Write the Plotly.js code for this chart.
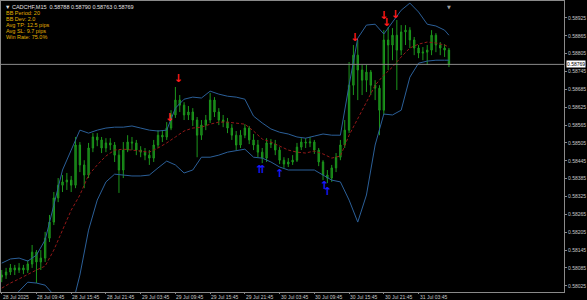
<!DOCTYPE html>
<html><head><meta charset="utf-8">
<script src="https://cdn.plot.ly/plotly-3.0.1.min.js"></script>
<style>html,body{margin:0;padding:0;background:#000;}#chart{width:587px;height:300px;}</style>
</head><body><div id="chart"></div>
<script>
const symbolName = "CADCHF,M15";
const lastBarOHLC = [0.58788, 0.58790, 0.58763, 0.58769];
const statsLines = ["BB Period: 20", "BB Dev: 2.0", "Avg TP: 12.5 pips", "Avg SL: 9.7 pips", "Win Rate: 75.0%"];
const barsPerCandle = 3;

const openP = [0.58054,0.58061,0.58071,0.58085,0.58078,0.58085,0.58078,0.58098,0.58138,0.58105,
0.58118,0.58185,0.58239,0.58320,0.58363,0.58374,0.58380,0.58363,0.58498,0.58431,
0.58397,0.58488,0.58525,0.58515,0.58488,0.58505,0.58498,0.58464,0.58414,0.58481,
0.58508,0.58505,0.58481,0.58474,0.58464,0.58454,0.58498,0.58531,0.58525,0.58555,
0.58599,0.58649,0.58632,0.58599,0.58609,0.58582,0.58531,0.58565,0.58582,0.58649,
0.58609,0.58582,0.58575,0.58555,0.58531,0.58498,0.58531,0.58555,0.58515,0.58498,
0.58474,0.58454,0.58505,0.58501,0.58481,0.58447,0.58434,0.58441,0.58447,0.58491,
0.58508,0.58505,0.58508,0.58481,0.58441,0.58397,0.58387,0.58421,0.58457,0.58498,
0.58548,0.58699,0.58800,0.58750,0.58716,0.58743,0.58699,0.58689,0.58615,0.58851,
0.58834,0.58867,0.58817,0.58878,0.58884,0.58851,0.58824,0.58807,0.58810,0.58817,
0.58867,0.58834,0.58824,0.58817];
const highP = [0.58078,0.58085,0.58098,0.58095,0.58101,0.58095,0.58111,0.58162,0.58145,0.58145,
0.58206,0.58263,0.58340,0.58387,0.58397,0.58404,0.58394,0.58525,0.58508,0.58447,
0.58505,0.58538,0.58538,0.58525,0.58521,0.58521,0.58508,0.58481,0.58508,0.58531,
0.58525,0.58515,0.58494,0.58488,0.58481,0.58515,0.58548,0.58548,0.58575,0.58615,
0.58693,0.58666,0.58642,0.58629,0.58622,0.58592,0.58582,0.58599,0.58673,0.58659,
0.58622,0.58599,0.58589,0.58568,0.58545,0.58548,0.58568,0.58562,0.58535,0.58515,
0.58488,0.58521,0.58518,0.58515,0.58491,0.58457,0.58454,0.58464,0.58505,0.58521,
0.58521,0.58525,0.58515,0.58488,0.58447,0.58414,0.58431,0.58471,0.58515,0.58582,
0.58777,0.58834,0.58851,0.58767,0.58767,0.58750,0.58716,0.58699,0.58884,0.58894,
0.58891,0.58918,0.58901,0.58901,0.58894,0.58861,0.58834,0.58827,0.58834,0.58884,
0.58874,0.58844,0.58837,0.58824];
const lowP = [0.58037,0.58048,0.58061,0.58061,0.58068,0.58064,0.58068,0.58085,0.58034,0.58078,
0.58105,0.58172,0.58229,0.58306,0.58340,0.58347,0.58340,0.58353,0.58407,0.58353,
0.58387,0.58474,0.58494,0.58471,0.58474,0.58481,0.58441,0.58337,0.58387,0.58474,
0.58481,0.58464,0.58457,0.58447,0.58431,0.58441,0.58488,0.58508,0.58515,0.58548,
0.58589,0.58609,0.58582,0.58582,0.58562,0.58457,0.58515,0.58548,0.58572,0.58592,
0.58565,0.58558,0.58538,0.58515,0.58481,0.58488,0.58521,0.58501,0.58481,0.58457,
0.58437,0.58441,0.58488,0.58464,0.58434,0.58421,0.58424,0.58431,0.58441,0.58481,
0.58488,0.58491,0.58468,0.58427,0.58380,0.58370,0.58374,0.58407,0.58447,0.58488,
0.58538,0.58666,0.58649,0.58666,0.58676,0.58666,0.58649,0.58531,0.58599,0.58750,
0.58783,0.58683,0.58800,0.58834,0.58824,0.58800,0.58790,0.58783,0.58767,0.58800,
0.58810,0.58800,0.58794,0.58760];
const closeP = [0.58061,0.58071,0.58085,0.58078,0.58085,0.58078,0.58098,0.58138,0.58105,0.58118,
0.58185,0.58239,0.58320,0.58363,0.58374,0.58380,0.58363,0.58498,0.58431,0.58397,
0.58488,0.58525,0.58515,0.58488,0.58505,0.58498,0.58464,0.58414,0.58481,0.58508,
0.58505,0.58481,0.58474,0.58464,0.58454,0.58498,0.58531,0.58525,0.58555,0.58599,
0.58649,0.58632,0.58599,0.58609,0.58582,0.58531,0.58565,0.58582,0.58649,0.58609,
0.58582,0.58575,0.58555,0.58531,0.58498,0.58531,0.58555,0.58515,0.58498,0.58474,
0.58454,0.58505,0.58501,0.58481,0.58447,0.58434,0.58441,0.58447,0.58491,0.58508,
0.58505,0.58508,0.58481,0.58441,0.58397,0.58387,0.58421,0.58457,0.58498,0.58548,
0.58699,0.58800,0.58750,0.58716,0.58743,0.58699,0.58689,0.58615,0.58851,0.58834,
0.58867,0.58817,0.58878,0.58884,0.58851,0.58824,0.58807,0.58810,0.58817,0.58867,
0.58834,0.58824,0.58817,0.58769];

const bandBars = [0,6,12,18,24,30,36,42,48,54,60,66,72,78,84,90,96,102,108,114,120,126,132,138,144,150,
156,162,168,174,180,186,192,198,204,210,216,222,228,234,240,246,252,258,264,270,276,282,288,294,300,306,309];
const upperBand = [0.58101,0.58115,0.58118,0.58108,0.58128,0.58179,0.58296,0.58414,0.58481,0.58548,
0.58538,0.58548,0.58555,0.58558,0.58558,0.58562,0.58555,0.58548,0.58545,0.58548,
0.58622,0.58652,0.58659,0.58656,0.58679,0.58669,0.58662,0.58659,0.58652,0.58595,
0.58572,0.58552,0.58541,0.58535,0.58525,0.58521,0.58528,0.58535,0.58531,0.58531,
0.58699,0.58857,0.58901,0.58904,0.58871,0.58911,0.58951,0.58975,0.58945,0.58904,
0.58898,0.58884,0.58867];
const middleBand = [0.58017,0.58034,0.58048,0.58064,0.58078,0.58091,0.58145,0.58212,0.58279,0.58330,
0.58397,0.58431,0.58461,0.58481,0.58484,0.58481,0.58478,0.58474,0.58488,0.58505,
0.58525,0.58545,0.58555,0.58558,0.58568,0.58575,0.58575,0.58572,0.58568,0.58545,
0.58518,0.58508,0.58494,0.58481,0.58474,0.58471,0.58478,0.58468,0.58454,0.58461,
0.58531,0.58589,0.58642,0.58699,0.58733,0.58760,0.58794,0.58824,0.58837,0.58844,
0.58841,0.58834,0.58827];
const lowerBand = [0.57960,0.57977,0.58007,0.58037,0.58034,0.58027,0.57994,0.57943,0.57943,0.58061,
0.58212,0.58313,0.58374,0.58400,0.58397,0.58394,0.58394,0.58397,0.58421,0.58444,
0.58431,0.58404,0.58414,0.58457,0.58457,0.58464,0.58474,0.58478,0.58484,0.58457,
0.58454,0.58441,0.58424,0.58414,0.58414,0.58414,0.58414,0.58397,0.58380,0.58374,
0.58313,0.58239,0.58330,0.58498,0.58602,0.58599,0.58615,0.58726,0.58773,0.58780,
0.58783,0.58783,0.58783];

const sellBars = [116,122,244,264,266,272];
const sellPrices = [0.58589,0.58720,0.58857,0.58931,0.58908,0.58935];
const buyBars = [178,180,192,223,225];
const buyPrices = [0.58414,0.58414,0.58400,0.58360,0.58340];

const timeTickBars = [0,24,48,72,96,120,144,168,192,216,240,264,288];
const timeTickLabels = ["28 Jul 2025","28 Jul 09:45","28 Jul 15:45","28 Jul 21:45","29 Jul 03:45","29 Jul 09:45",
"29 Jul 15:45","29 Jul 21:45","30 Jul 03:45","30 Jul 09:45","30 Jul 15:45","30 Jul 21:45","31 Jul 03:45"];
const priceTicks = [0.58025,0.58085,0.58145,0.58205,0.58265,0.58325,0.58385,0.58445,0.58505,0.58565,
0.58625,0.58685,0.58745,0.58805,0.58865,0.58925];

const candleBars = openP.map((_, i) => i * barsPerCandle);
const lastClose = closeP[closeP.length - 1];
const FONT = "Liberation Sans, Arial, sans-serif";

const traces = [
  {type:'scatter', mode:'lines', x:bandBars, y:upperBand, line:{color:'#2b5f98', width:1}, hoverinfo:'skip'},
  {type:'scatter', mode:'lines', x:bandBars, y:lowerBand, line:{color:'#2b5f98', width:1}, hoverinfo:'skip'},
  {type:'scatter', mode:'lines', x:bandBars, y:middleBand, line:{color:'#931818', width:1, dash:'3px,2px'}, hoverinfo:'skip'},
  {type:'candlestick', x:candleBars, open:openP, high:highP, low:lowP, close:closeP,
   increasing:{line:{color:'#1c961c', width:1}, fillcolor:'#146c14'},
   decreasing:{line:{color:'#1c961c', width:1}, fillcolor:'#1a7e1a'},
   whiskerwidth:0, hoverinfo:'skip'},
  {type:'scatter', mode:'text', x:sellBars, y:sellPrices, text:sellBars.map(()=>'↓'),
   textfont:{color:'#ff1a1a', size:11, family:'DejaVu Sans', weight:'bold'}, hoverinfo:'skip'},
  {type:'scatter', mode:'text', x:buyBars, y:buyPrices, text:buyBars.map(()=>'↑'),
   textfont:{color:'#1a1aff', size:11, family:'DejaVu Sans', weight:'bold'}, hoverinfo:'skip'}
];

const annotations = [];
annotations.push({xref:'paper', yref:'paper', x:0.004, y:1, yshift:-1, xanchor:'left', yanchor:'top', showarrow:false,
  text:'▼ ' + symbolName + '  ' + lastBarOHLC.map(v=>v.toFixed(5)).join(' '),
  font:{family:FONT, size:5.5, color:'#e0e0e0'}});
statsLines.forEach((t, i) => {
  annotations.push({xref:'paper', yref:'paper', x:0.006, y:1, yshift:-7 - 6*i, xanchor:'left', yanchor:'top', showarrow:false,
    text:t, font:{family:FONT, size:5.5, color:'#e0b000'}});
});
timeTickBars.forEach((b, i) => {
  annotations.push({xref:'x', yref:'paper', x:b, y:0, yshift:-1, xanchor:'left', yanchor:'top', showarrow:false,
    text:timeTickLabels[i], borderpad:0, font:{family:FONT, size:5, color:'#c8c8c8'}});
});
annotations.push({xref:'paper', yref:'y', x:1, xshift:2, y:lastClose, xanchor:'left', yanchor:'middle', showarrow:false,
  text:lastClose.toFixed(5), bgcolor:'#ffffff', borderpad:0, font:{family:FONT, size:5, color:'#000000'}});
annotations.push({xref:'x', yref:'paper', x:candleBars[candleBars.length-1], y:1, yshift:-1, xanchor:'center', yanchor:'top', showarrow:false,
  text:'▼', font:{family:'DejaVu Sans', size:5, color:'#9a9a9a'}});

const layout = {
  width:587, height:300,
  margin:{l:1, r:23, t:1, b:8, pad:0},
  paper_bgcolor:'#000000', plot_bgcolor:'#000000',
  showlegend:false, boxgap:0.55,
  font:{family:FONT, size:5, color:'#c8c8c8'},
  xaxis:{range:[-0.5, 388.5], tickmode:'array', tickvals:timeTickBars, showticklabels:false,
    ticks:'outside', ticklen:1, tickcolor:'#8a8a8a',
    showgrid:false, zeroline:false, showline:true, linecolor:'#8a8a8a', linewidth:1, mirror:true,
    rangeslider:{visible:false}, fixedrange:true},
  yaxis:{side:'right', range:[0.58004, 0.58982], tickmode:'array', tickvals:priceTicks,
    ticktext:priceTicks.map(v=>v.toFixed(5)), ticks:'outside', ticklen:2, tickcolor:'#8a8a8a',
    tickfont:{family:FONT, size:5, color:'#c8c8c8'},
    showgrid:false, zeroline:false, showline:true, linecolor:'#8a8a8a', linewidth:1, mirror:true, fixedrange:true},
  shapes:[{type:'line', xref:'paper', x0:0, x1:1, yref:'y', y0:lastClose, y1:lastClose, line:{color:'#8a8a8a', width:1}}],
  annotations:annotations
};

Plotly.newPlot('chart', traces, layout, {staticPlot:true, displayModeBar:false});
</script></body></html>
